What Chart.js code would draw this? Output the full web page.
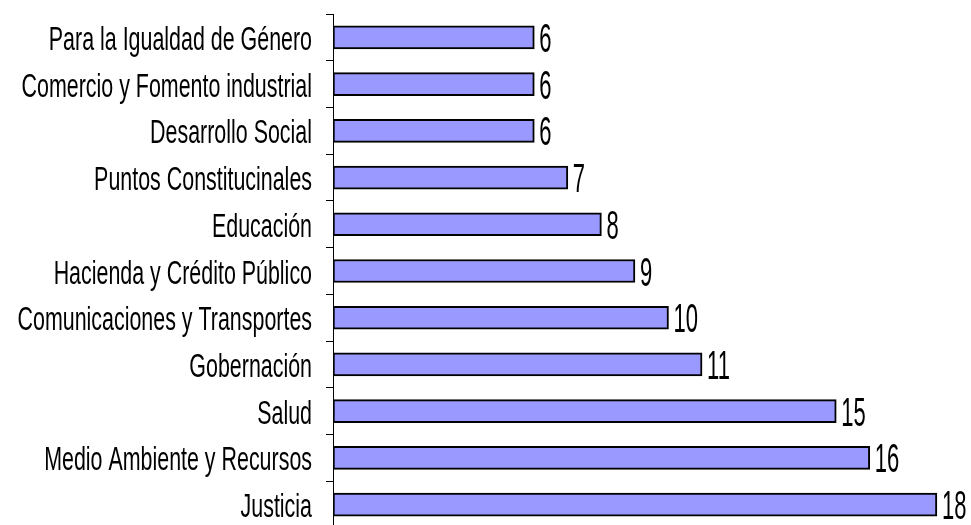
<!DOCTYPE html>
<html lang="es">
  <head>
    <meta charset="UTF-8" />
    <title>Comisiones</title>
    <script src="https://cdn.jsdelivr.net/npm/chart.js"></script>
    <style>
      html,
      body {
        margin: 0;
        padding: 0;
        background: #ffffff;
        overflow: hidden;
        width: 971px;
        height: 525px;
      }
      #chart {
        position: absolute;
        left: 0;
        top: 0;
      }
    </style>
  </head>
  <body>
    <canvas id="chart" width="1004" height="530"></canvas>

    <script>
      // datos
      const categorias = [
        'Para la Igualdad de Género',
        'Comercio y Fomento industrial',
        'Desarrollo Social',
        'Puntos Constitucinales',
        'Educación',
        'Hacienda y Crédito Público',
        'Comunicaciones y Transportes',
        'Gobernación',
        'Salud',
        'Medio Ambiente y Recursos',
        'Justicia',
      ]
      const valores = [6, 6, 6, 7, 8, 9, 10, 11, 15, 16, 18]

      const fuente = "'Liberation Sans', Arial, sans-serif"

      // texto estrecho (tipo Arial Narrow): se comprime en horizontal
      function textoEstrecho(ctx, txt, x, y, size, escala, align) {
        ctx.save()
        ctx.font = `${size}px ${fuente}`
        ctx.textBaseline = 'alphabetic'
        ctx.textAlign = align
        ctx.translate(x, y)
        ctx.scale(escala, 1)
        ctx.fillText(txt, 0, 0)
        ctx.restore()
      }

      // nombres de las categorías a la izquierda del eje
      const etiquetasCategoria = {
        id: 'etiquetasCategoria',
        afterDraw(chart) {
          const ctx = chart.ctx
          const y = chart.scales.y
          ctx.fillStyle = '#000'
          categorias.forEach((c, i) => {
            textoEstrecho(ctx, c, y.right - 21, y.getPixelForValue(i) + 12.5, 34, 0.63, 'right')
          })
        },
      }

      // valores al final de cada barra
      const etiquetasValor = {
        id: 'etiquetasValor',
        afterDatasetsDraw(chart) {
          const ctx = chart.ctx
          const meta = chart.getDatasetMeta(0)
          ctx.fillStyle = '#000'
          meta.data.forEach((bar, i) => {
            textoEstrecho(ctx, String(valores[i]), bar.x + 5, bar.y + 14.5, 40, 0.55, 'left')
          })
        },
      }

      new Chart(document.getElementById('chart'), {
        type: 'bar',
        data: {
          labels: categorias,
          datasets: [
            {
              data: valores,
              backgroundColor: '#9999ff',
              borderColor: '#000000',
              borderWidth: 2,
              borderSkipped: false,
              barThickness: 23,
            },
          ],
        },
        options: {
          indexAxis: 'y',
          responsive: false,
          animation: false,
          layout: { padding: { top: 14, right: 0, bottom: 2, left: 0 } },
          plugins: {
            legend: { display: false },
            tooltip: { enabled: false },
          },
          scales: {
            x: {
              display: false,
              min: 0,
              max: 20,
            },
            y: {
              afterFit(scale) {
                scale.width = 333
              },
              border: { display: true, color: '#000', width: 1 },
              grid: {
                offset: true,
                drawOnChartArea: false,
                drawTicks: true,
                tickLength: 7,
                color: '#000',
              },
              ticks: { display: false },
            },
          },
        },
        plugins: [etiquetasValor, etiquetasCategoria],
      })
    </script>
  </body>
</html>
